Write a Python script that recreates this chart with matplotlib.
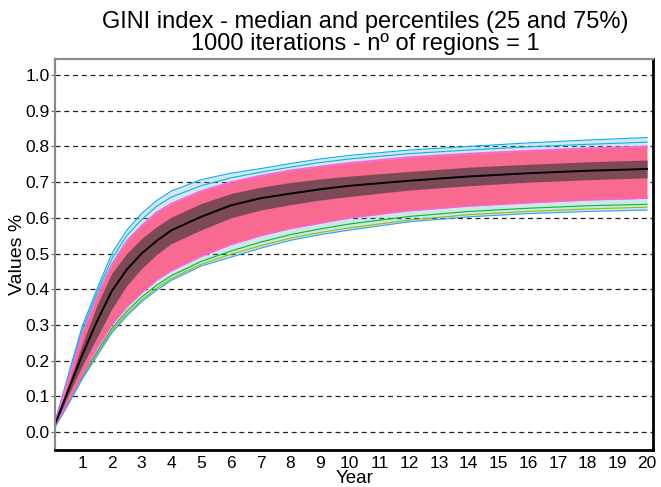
import matplotlib
matplotlib.use("Agg")
import matplotlib.pyplot as plt

plt.rcParams['font.family'] = ['Liberation Sans', 'DejaVu Sans']

years = [0.083, 0.5, 1, 1.5, 2, 2.5, 3, 3.5, 4, 5, 6, 7, 8, 9, 10,
         12, 14, 16, 18, 20]

median = [0.02, 0.11, 0.215, 0.31, 0.395, 0.455, 0.50, 0.535, 0.565, 0.603,
          0.635, 0.655, 0.668, 0.68, 0.69, 0.704, 0.716, 0.725, 0.732, 0.737]
p25 = [0.018, 0.097, 0.185, 0.265, 0.345, 0.41, 0.458, 0.497, 0.528, 0.566,
       0.60, 0.622, 0.637, 0.65, 0.66, 0.678, 0.69, 0.70, 0.707, 0.712]
p75 = [0.022, 0.123, 0.245, 0.355, 0.445, 0.50, 0.542, 0.575, 0.602, 0.64,
       0.668, 0.686, 0.699, 0.709, 0.717, 0.73, 0.742, 0.75, 0.757, 0.762]
# dense band of iterations
band_lo = [0.016, 0.08, 0.16, 0.235, 0.30, 0.35, 0.39, 0.425, 0.452, 0.492,
           0.525, 0.55, 0.57, 0.585, 0.60, 0.62, 0.633, 0.642, 0.65, 0.655]
band_hi = [0.024, 0.14, 0.275, 0.38, 0.47, 0.535, 0.578, 0.615, 0.64, 0.675,
           0.70, 0.718, 0.733, 0.744, 0.754, 0.77, 0.78, 0.788, 0.795, 0.80]
# a few single iterations in the fringes
hi_mid = [0.025, 0.145, 0.285, 0.39, 0.485, 0.55, 0.595, 0.632, 0.658, 0.69,
          0.712, 0.728, 0.742, 0.755, 0.765, 0.78, 0.79, 0.799, 0.806, 0.812]
lo_mid = [0.015, 0.076, 0.154, 0.224, 0.29, 0.338, 0.378, 0.411, 0.438, 0.478,
          0.507, 0.532, 0.553, 0.569, 0.583, 0.604, 0.618, 0.627, 0.634, 0.638]
lo_mid2 = [0.014, 0.074, 0.15, 0.218, 0.283, 0.33, 0.37, 0.403, 0.43, 0.47,
           0.498, 0.522, 0.543, 0.559, 0.572, 0.594, 0.609, 0.618, 0.625, 0.63]
# outermost iterations
env_lo = [0.013, 0.072, 0.148, 0.213, 0.278, 0.325, 0.365, 0.397, 0.425, 0.465,
          0.49, 0.515, 0.537, 0.553, 0.566, 0.589, 0.603, 0.612, 0.618, 0.622]
env_hi = [0.026, 0.15, 0.295, 0.40, 0.50, 0.565, 0.612, 0.648, 0.675, 0.707,
          0.725, 0.738, 0.752, 0.765, 0.775, 0.79, 0.80, 0.81, 0.818, 0.825]

yticks = [0.0, 0.1, 0.2, 0.3, 0.4, 0.5, 0.6, 0.7, 0.8, 0.9, 1.0]
xticks = list(range(1, 21))

fig = plt.figure(figsize=(6.61, 4.87), dpi=100)
ax = fig.add_axes([0.0832, 0.076, 0.9047, 0.8029])

ax.fill_between(years, env_lo, band_lo, color='#4DB8A0', alpha=0.3, lw=0)
ax.fill_between(years, band_hi, env_hi, color='#7FA8F0', alpha=0.3, lw=0)
ax.plot(years, lo_mid, color='#00BA38', lw=0.8)
ax.plot(years, lo_mid2, color='#A3B500', lw=0.8)
ax.plot(years, hi_mid, color='#00BFC4', lw=0.8)
ax.plot(years, env_lo, color='#35A2FF', lw=0.8)
ax.plot(years, env_hi, color='#00B0F6', lw=0.8)
ax.fill_between(years, band_lo, band_hi, color='#F96A90', lw=0)
ax.plot(years, band_hi, color='#F564E3', lw=1.2)
ax.plot(years, band_lo, color='#F564E3', lw=1.0)
ax.fill_between(years, p25, p75, color='#7B4A56', lw=0)
ax.plot(years, median, color='black', lw=1.4)

for v in yticks:
    ax.axhline(v, color='#222222', lw=0.9, ls=(0, (4, 3)), zorder=0.5)

ax.set_xlim(0.09, 20.2)
ax.set_ylim(-0.05, 1.045)
ax.set_xticks(xticks)
ax.set_xticklabels([str(v) for v in xticks])
ax.set_yticks(yticks)
ax.set_yticklabels(['%.1f' % v for v in yticks])
ax.tick_params(axis='x', length=0, pad=4, labelsize=12.5)
ax.tick_params(axis='y', length=3, width=0.8, color='#666666', pad=1,
               labelsize=12.5)

for side in ('left', 'top'):
    ax.spines[side].set_color('#8a8a8a')
    ax.spines[side].set_linewidth(1.6)
for side in ('right', 'bottom'):
    ax.spines[side].set_color('black')
    ax.spines[side].set_linewidth(2.0)

fig.text(0.552, 0.932,
         'GINI index - median and percentiles (25 and 75%)\n'
         '1000 iterations - nº of regions = 1',
         ha='center', va='center', fontsize=17, linespacing=1.0)
fig.text(0.5356, 0.018, 'Year', ha='center', va='center', fontsize=13.5)
fig.text(0.026, 0.477, 'Values %', ha='center', va='center', fontsize=14,
         rotation=90)

fig.savefig('out.png', dpi=100)
